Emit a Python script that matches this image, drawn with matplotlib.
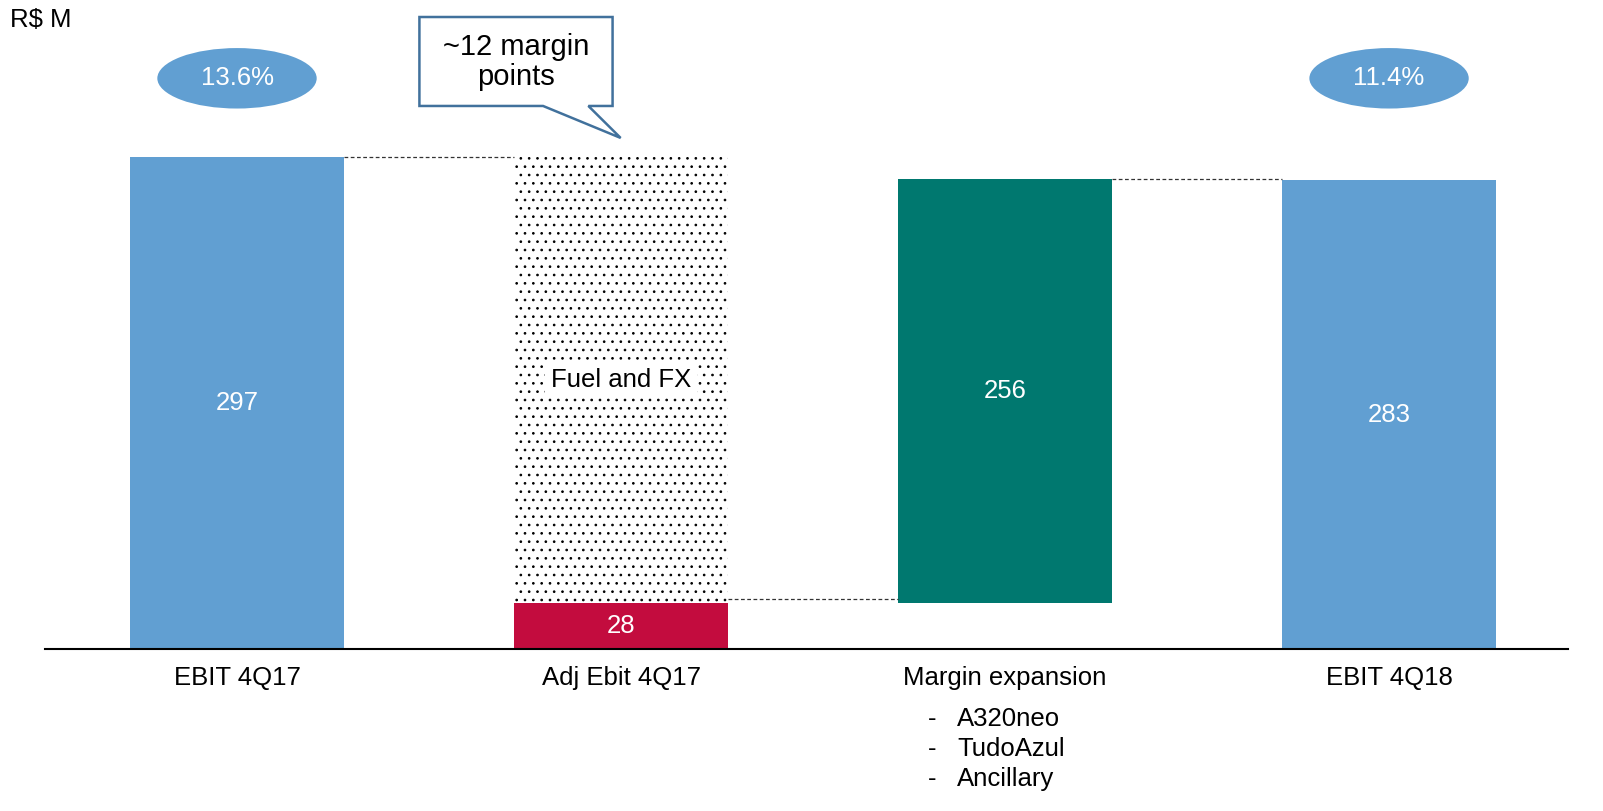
import matplotlib.pyplot as plt
from matplotlib.patches import Ellipse, Polygon
import numpy as np

plt.rcParams['font.family'] = ['Liberation Sans', 'DejaVu Sans']
plt.rcParams['hatch.linewidth'] = 0.7

# data
categories = ['EBIT 4Q17', 'Adj Ebit 4Q17', 'Margin expansion', 'EBIT 4Q18']
ebit_4q17 = 297
adj_ebit = 28
margin_expansion = 256
ebit_4q18 = 283
margins = ['13.6%', '11.4%']
sub_items = ['A320neo', 'TudoAzul', 'Ancillary']

blue = '#619FD2'
green = '#00786F'
red = '#C30C3E'

fig = plt.figure(figsize=(16.03, 8.11), dpi=100)
ax = fig.add_axes([45 / 1603, 162 / 811, 1523 / 1603, 649 / 811])

x = np.arange(len(categories))
w = 0.555

# bars
ax.bar(x[0], ebit_4q17, width=w, color=blue)
ax.bar(x[1], ebit_4q17 - adj_ebit, bottom=adj_ebit, width=w,
       color='white', edgecolor='black', hatch='..', linewidth=0)
ax.bar(x[1], adj_ebit, width=w, color=red)
ax.bar(x[2], margin_expansion, bottom=adj_ebit, width=w, color=green)
ax.bar(x[3], ebit_4q18, width=w, color=blue)

# connectors
dash = dict(ls='--', color='#333333', lw=0.9, dashes=(3, 2))
ax.plot([x[0] + w / 2, x[1] - w / 2], [ebit_4q17, ebit_4q17], **dash)
ax.plot([x[1] + w / 2, x[2] - w / 2], [adj_ebit + 2, adj_ebit + 2], **dash)
ax.plot([x[2] + w / 2, x[3] - w / 2], [adj_ebit + margin_expansion, adj_ebit + margin_expansion], **dash)

# value labels
fs = 18.5
ax.text(x[0], ebit_4q17 / 2, str(ebit_4q17), color='white', fontsize=fs, ha='center', va='center')
ax.text(x[1], adj_ebit / 2, str(adj_ebit), color='white', fontsize=fs, ha='center', va='center')
ax.text(x[1], (ebit_4q17 + adj_ebit) / 2, 'Fuel and FX', color='black', fontsize=fs, ha='center', va='center',
        bbox=dict(facecolor='white', edgecolor='none', pad=4))
ax.text(x[2], adj_ebit + margin_expansion / 2, str(margin_expansion), color='white', fontsize=fs, ha='center', va='center')
ax.text(x[3], ebit_4q18 / 2, str(ebit_4q18), color='white', fontsize=fs, ha='center', va='center')

# margin ellipses
for xi, m in zip([x[0], x[3]], margins):
    ax.add_patch(Ellipse((xi, 344.5), 0.415, 36.5, facecolor=blue, edgecolor='none'))
    ax.text(xi, 344.5, m, color='white', fontsize=fs, ha='center', va='center')

# callout
callout = Polygon([(0.475, 381.5), (0.978, 381.5), (0.978, 327.8), (0.915, 327.8),
                   (0.999, 308.5), (0.797, 327.8), (0.475, 327.8)],
                  closed=True, facecolor='white', edgecolor='#41719C', lw=1.8)
ax.add_patch(callout)
ax.text(0.727, 354.5, '~12 margin\npoints', fontsize=21, ha='center', va='center', linespacing=1.1)

# sub-items under margin expansion
for i, s in enumerate(sub_items):
    yy = -42 - i * 18.1
    ax.text(x[2] - 0.19, yy, '-', fontsize=fs, ha='center', va='center', clip_on=False)
    ax.text(x[2] - 0.125, yy, s, fontsize=fs, ha='left', va='center', clip_on=False)

ax.set_xticks(x)
ax.set_xticklabels(categories, fontsize=fs)
ax.tick_params(axis='x', length=0, pad=12)
ax.set_yticks([])
ax.set_xlim(-0.5, 3.466)
ax.set_ylim(0, 649 / 1.6566)
for s in ['top', 'right', 'left']:
    ax.spines[s].set_visible(False)
ax.spines['bottom'].set_linewidth(1.5)

fig.text(10 / 1603, 1 - 20 / 811, 'R$ M', fontsize=fs, ha='left', va='center')

fig.savefig('out.png', dpi=100)
